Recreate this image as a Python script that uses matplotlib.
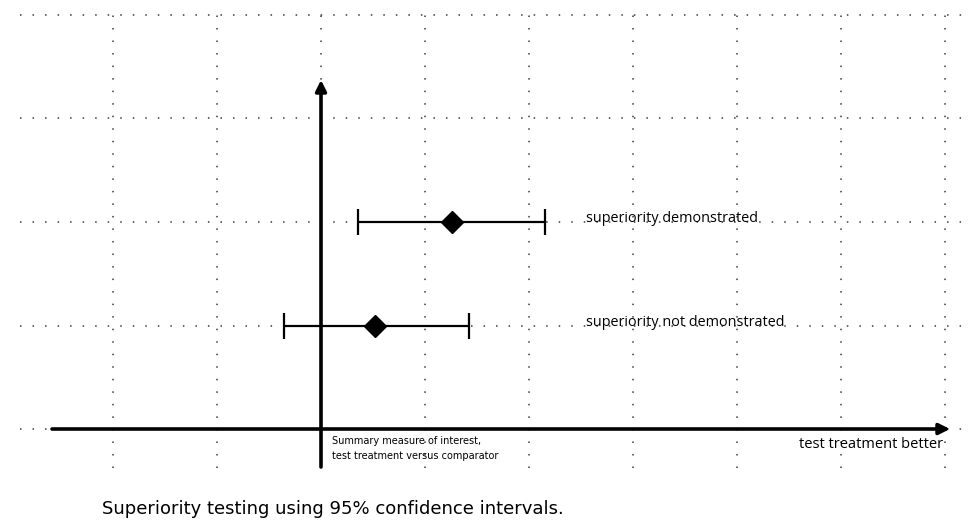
import numpy as np
import matplotlib.pyplot as plt

# confidence intervals (grid units, vertical axis at x = 0)
labels = ["superiority demonstrated", "superiority not demonstrated"]
rows = [2, 1]
estimates = [1.26, 0.52]
lower = [0.36, -0.36]
upper = [2.15, 1.42]

grid_x = [-2, -1, 0, 1, 2, 3, 4, 5, 6]
grid_y = [0, 1, 2, 3, 4]

# pixel -> data mapping: 104 px per unit in x, 103.5 px per unit in y
px_x, px_y = 104.0, 103.5
x0, y0 = 321, 429

fig = plt.figure(figsize=(9.8, 5.26), dpi=100)
ax = fig.add_axes([0, 0, 1, 1])
ax.set_xlim((0 - x0) / px_x, (980 - x0) / px_x)
ax.set_ylim((y0 - 526) / px_y, (y0 - 0) / px_y)
ax.axis("off")

dot = (0, (1, 7.2))
ax.hlines(grid_y, (20 - x0) / px_x, (962 - x0) / px_x, colors="#3a3a3a",
          linewidth=1.1, linestyles=[dot])
ax.vlines(grid_x, (y0 - 468) / px_y, 4, colors="#3a3a3a",
          linewidth=1.1, linestyles=[dot])

# axes arrows
ax.annotate("", xy=((950 - x0) / px_x, 0), xytext=((52 - x0) / px_x, 0),
            arrowprops=dict(arrowstyle="-|>", lw=2.6, color="black",
                            mutation_scale=16, shrinkA=0, shrinkB=0))
ax.annotate("", xy=(0, (y0 - 80) / px_y), xytext=(0, (y0 - 467) / px_y),
            arrowprops=dict(arrowstyle="-|>", lw=2.6, color="black",
                            mutation_scale=16, shrinkA=0, shrinkB=0))

est = np.array(estimates)
ax.errorbar(est, rows, xerr=[est - np.array(lower), np.array(upper) - est],
            fmt="D", color="black", markersize=11, elinewidth=1.6,
            capsize=9.4, capthick=1.6)

for r, lab in zip(rows, labels):
    ax.text((586 - x0) / px_x, r + 0.03, lab, fontsize=10.4, family="Open Sans",
            ha="left", va="center")

ax.text((332 - x0) / px_x, (y0 - 436) / px_y,
        "Summary measure of interest,\ntest treatment versus comparator",
        fontsize=7, family="Liberation Sans Narrow", ha="left", va="top",
        linespacing=1.6)
ax.text((943 - x0) / px_x, (y0 - 444) / px_y, "test treatment better",
        fontsize=10.5, family="Open Sans", ha="right", va="center")

fig.text(102 / 980, 1 - 509 / 526,
         "Superiority testing using 95% confidence intervals.",
         fontsize=13, family="DejaVu Sans", ha="left", va="center")

fig.savefig("out.png", dpi=100)
